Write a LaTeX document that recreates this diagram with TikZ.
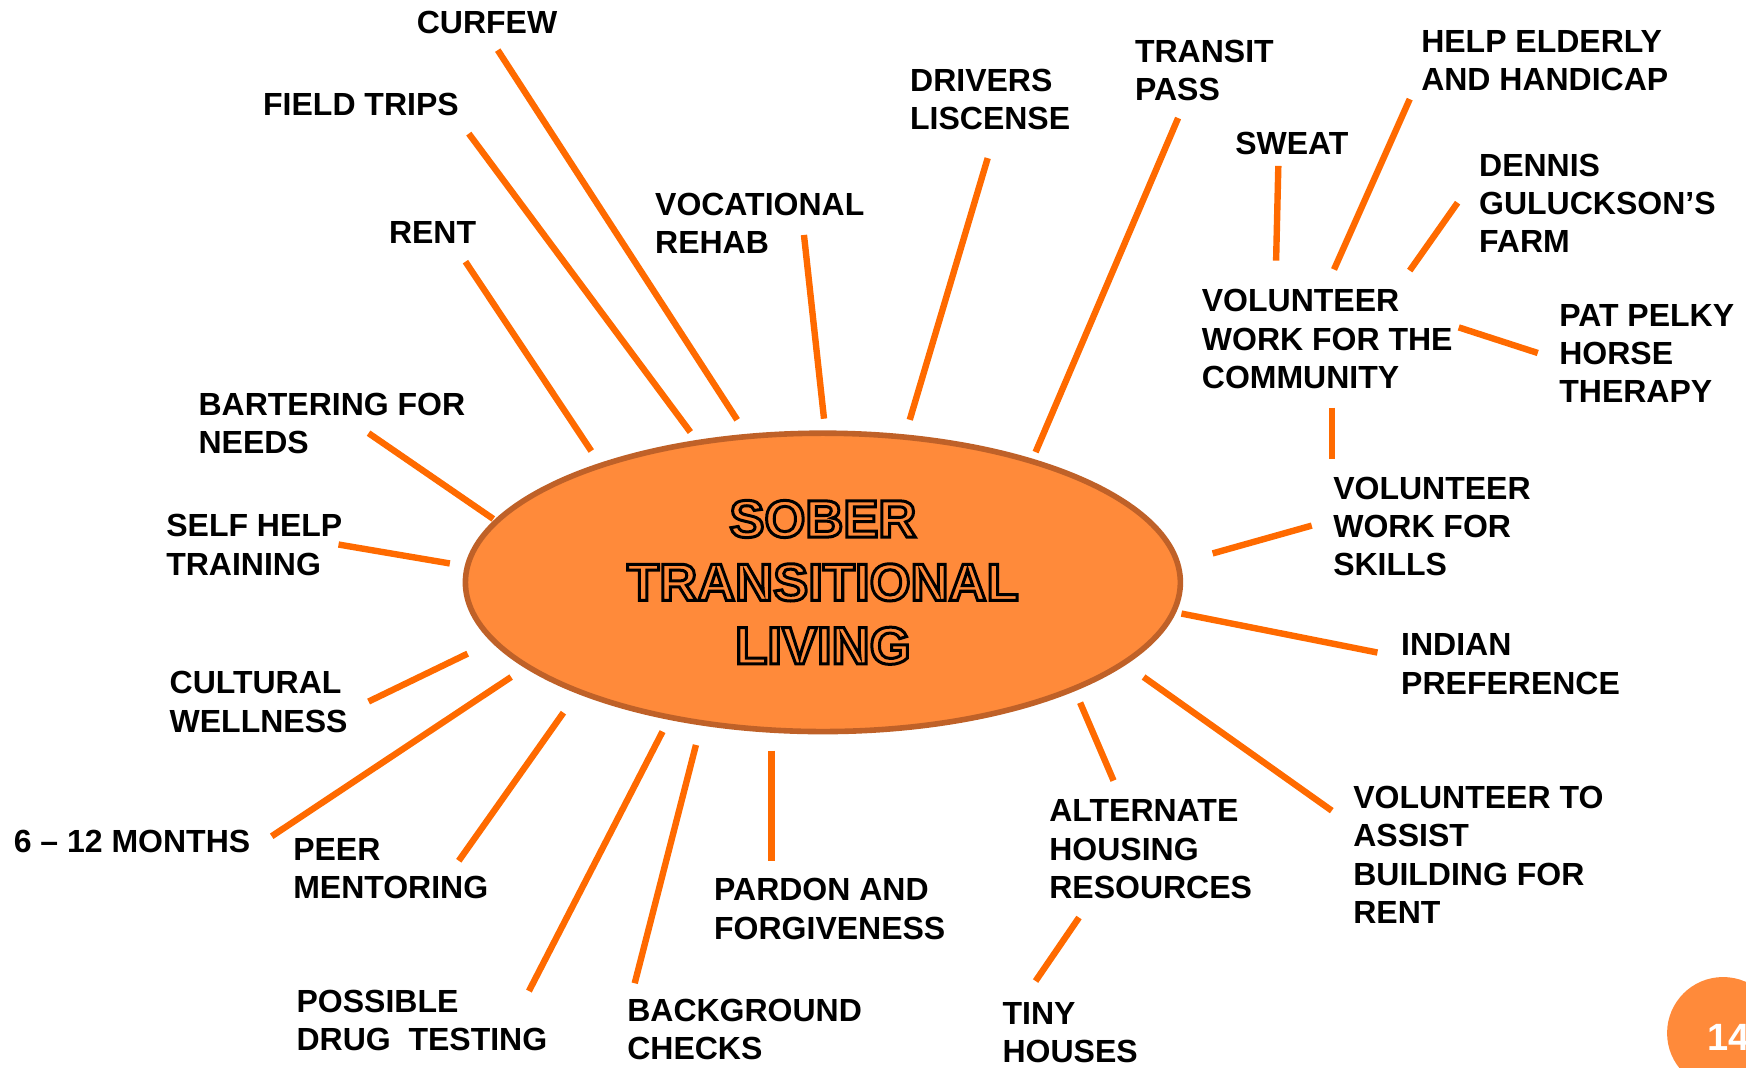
\documentclass[tikz,border=0pt]{standalone}
\usepackage{fontspec}
\setmainfont{Liberation Sans}
\usetikzlibrary{shapes.geometric}
\definecolor{hubfill}{HTML}{FF8A3A}
\definecolor{hubedge}{HTML}{BF6128}
\definecolor{spoke}{HTML}{FF6A00}
\newcommand\olt[1]{{\color{hubfill}\special{pdf:literal direct 2 Tr 1.5 w 0 0 0 RG}#1\special{pdf:literal direct 0 Tr}}}
\tikzset{
  lbl/.style={anchor=north west, inner sep=0pt, align=left, font=\bfseries\fontsize{16}{19.2}\selectfont},
  spokeline/.style={draw=spoke, line width=3.2pt},
  hub/.style={ellipse, draw=hubedge, line width=2.8pt, fill=hubfill, minimum width=357.5pt, minimum height=149.2pt, inner sep=0pt, align=center, font=\bfseries\fontsize{26.3}{31.7}\selectfont},
  pagedot/.style={circle, fill=hubfill, minimum size=56pt, inner sep=0pt},
  pagetext/.style={inner sep=0pt, text=white, font=\bfseries\fontsize{19}{22}\selectfont}
}
\begin{document}
\begin{tikzpicture}[x=0.5568pt, y=-0.5568pt]
\useasboundingbox (0,0) rectangle (1568,959.1);
% hub
\node[hub] (hub) at (739,523) {\olt{SOBER}\\\olt{TRANSITIONAL}\\\olt{LIVING}};
% labels
\node[lbl] (curfew) at (374,9.7) {CURFEW};
\node[lbl] (field) at (236,83.7) {FIELD TRIPS};
\node[lbl] (rent) at (349,198.7) {RENT};
\node[lbl] (voc) at (588,172.7) {VOCATIONAL\\REHAB};
\node[lbl] (drivers) at (817,61.7) {DRIVERS\\LISCENSE};
\node[lbl] (transit) at (1019,35.7) {TRANSIT\\PASS};
\node[lbl] (sweat) at (1109,118.7) {SWEAT};
\node[lbl] (help) at (1276,26.7) {HELP ELDERLY\\AND HANDICAP};
\node[lbl] (dennis) at (1328,137.7) {DENNIS\\GULUCKSON’S\\FARM};
\node[lbl] (vcomm) at (1079,259.7) {VOLUNTEER\\WORK FOR THE\\COMMUNITY};
\node[lbl] (pat) at (1400,272.7) {PAT PELKY\\HORSE\\THERAPY};
\node[lbl] (vskills) at (1197,427.7) {VOLUNTEER\\WORK FOR\\SKILLS};
\node[lbl] (indian) at (1258,568.7) {INDIAN\\PREFERENCE};
\node[lbl] (vassist) at (1215,705.7) {VOLUNTEER TO\\ASSIST\\BUILDING FOR\\RENT};
\node[lbl] (alt) at (942,717.7) {ALTERNATE\\HOUSING\\RESOURCES};
\node[lbl] (tiny) at (900,899.7) {TINY\\HOUSES};
\node[lbl] (pardon) at (641,788.7) {PARDON AND\\FORGIVENESS};
\node[lbl] (background) at (563,896.7) {BACKGROUND\\CHECKS};
\node[lbl] (possible) at (266,888.7) {POSSIBLE\\DRUG\ \ TESTING};
\node[lbl] (peer) at (263,752.7) {PEER\\MENTORING};
\node[lbl] (months) at (12,744.7) {6 – 12 MONTHS};
\node[lbl] (cultural) at (152,602.7) {CULTURAL\\WELLNESS};
\node[lbl] (selfhelp) at (149,461.7) {SELF HELP\\TRAINING};
\node[lbl] (bartering) at (178,352.7) {BARTERING FOR\\NEEDS};
% connector end points
\coordinate (curfew-a) at (662,377);   \coordinate (curfew-b) at (447,45);
\coordinate (field-a) at (620,388);    \coordinate (field-b) at (421,120);
\coordinate (rent-a) at (531,405);     \coordinate (rent-b) at (418,235);
\coordinate (voc-a) at (740,376);      \coordinate (voc-b) at (722,211);
\coordinate (drivers-a) at (817,377);  \coordinate (drivers-b) at (887,142);
\coordinate (transit-a) at (930,406);  \coordinate (transit-b) at (1058,106);
\coordinate (sweat-a) at (1146,234);   \coordinate (sweat-b) at (1148,149);
\coordinate (help-a) at (1198,242);    \coordinate (help-b) at (1266,89);
\coordinate (dennis-a) at (1266,243);  \coordinate (dennis-b) at (1309,182);
\coordinate (pat-a) at (1310,294);     \coordinate (pat-b) at (1381,317);
\coordinate (vcomm-a) at (1196,366);   \coordinate (vcomm-b) at (1196,412);
\coordinate (vskills-a) at (1089,497); \coordinate (vskills-b) at (1178,472);
\coordinate (indian-a) at (1061,551);  \coordinate (indian-b) at (1237,586);
\coordinate (vassist-a) at (1027,608); \coordinate (vassist-b) at (1196,728);
\coordinate (alt-a) at (970,631);      \coordinate (alt-b) at (1000,701);
\coordinate (tiny-a) at (969,824);     \coordinate (tiny-b) at (930,881);
\coordinate (pardon-a) at (693,674);   \coordinate (pardon-b) at (693,773);
\coordinate (bg-a) at (625,669);       \coordinate (bg-b) at (570,883);
\coordinate (poss-a) at (595,657);     \coordinate (poss-b) at (475,890);
\coordinate (peer-a) at (506,640);     \coordinate (peer-b) at (412,773);
\coordinate (months-a) at (459,608);   \coordinate (months-b) at (244,751);
\coordinate (cult-a) at (420,587);     \coordinate (cult-b) at (331,630);
\coordinate (self-a) at (404,506);     \coordinate (self-b) at (304,489);
\coordinate (bart-a) at (443,466);     \coordinate (bart-b) at (331,389);
% connectors
\foreach \p in {curfew,field,rent,voc,drivers,transit,sweat,help,dennis,pat,vcomm,vskills,indian,vassist,alt,tiny,pardon,bg,poss,peer,months,cult,self,bart}
  {\draw[spokeline] (\p-a) -- (\p-b);}
% page number
\node[pagedot] (pagedot) at (1547.4,927.7) {};
\node[pagetext] (pagenum) at (1552,932) {14};
\end{tikzpicture}
\end{document}
